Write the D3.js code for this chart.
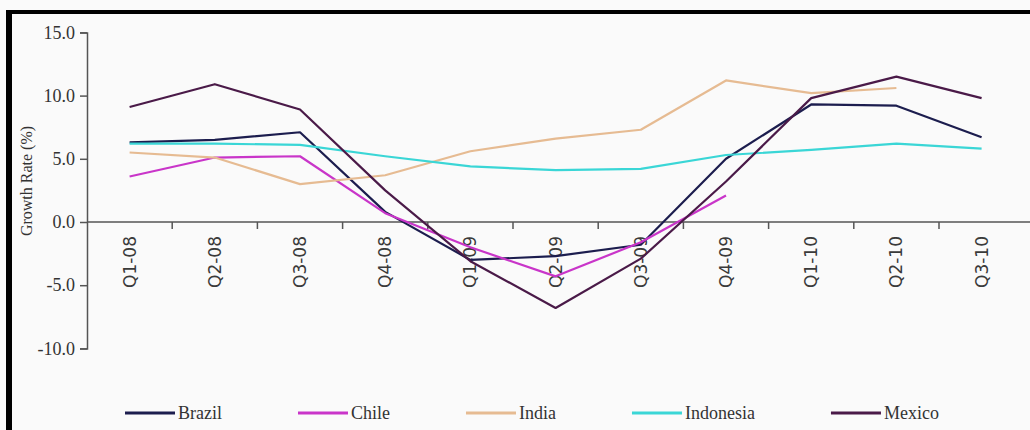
<!DOCTYPE html>
<html>
<head>
<meta charset="utf-8">
<script src="https://cdn.jsdelivr.net/npm/d3@7/dist/d3.min.js"></script>
<style>
  html, body { margin: 0; padding: 0; background: #fafafa; }
  svg { display: block; }
</style>
</head>
<body>
<div id="chart"></div>
<script>
// Quarterly GDP growth rates (%), 2008–2010
const quarters = ["Q1-08", "Q2-08", "Q3-08", "Q4-08", "Q1-09", "Q2-09", "Q3-09", "Q4-09", "Q1-10", "Q2-10", "Q3-10"];
const brazil    = [6.3, 6.5, 7.1, 0.8, -3.0, -2.7, -1.8, 5.0, 9.3, 9.2, 6.7];
const chile     = [3.6, 5.1, 5.2, 0.7, -2.0, -4.3, -1.6, 2.1, null, null, null];
const india     = [5.5, 5.1, 3.0, 3.7, 5.6, 6.6, 7.3, 11.2, 10.2, 10.6, null];
const indonesia = [6.2, 6.2, 6.1, 5.2, 4.4, 4.1, 4.2, 5.3, 5.7, 6.2, 5.8];
const mexico    = [9.1, 10.9, 8.9, 2.5, -3.1, -6.8, -2.9, 3.2, 9.8, 11.5, 9.8];
const yTicks    = [-10, -5, 0, 5, 10, 15];
const seriesNames = ["Brazil", "Chile", "India", "Indonesia", "Mexico"];

const series = [
  { name: "Brazil",    values: brazil,    color: "#1c1d4e" },
  { name: "Chile",     values: chile,     color: "#c935c9" },
  { name: "India",     values: india,     color: "#e6bb92" },
  { name: "Indonesia", values: indonesia, color: "#3ad6d6" },
  { name: "Mexico",    values: mexico,    color: "#4a1a48" }
];

const W = 1030, H = 430;
const svg = d3.select("#chart").append("svg").attr("width", W).attr("height", H);

// frame (top and left edges)
svg.append("rect").attr("x", 6).attr("y", 10).attr("width", W - 6).attr("height", 4).attr("fill", "#000");
svg.append("rect").attr("x", 6).attr("y", 10).attr("width", 6).attr("height", H - 10).attr("fill", "#000");

const x = d3.scaleBand().domain(quarters).range([87, 1024.2]).padding(0);
const y = d3.scaleLinear().domain([-10, 15]).range([348.4, 32.4]);

// y axis
const yAxis = svg.append("g").attr("transform", "translate(87,0)")
  .call(d3.axisLeft(y).tickValues(yTicks).tickSize(7).tickPadding(5).tickFormat(d => d.toFixed(1)));
yAxis.select(".domain").attr("stroke", "#555").attr("stroke-width", 1.5);
yAxis.selectAll(".tick line").attr("stroke", "#555").attr("stroke-width", 1.5);
yAxis.selectAll(".tick text")
  .attr("font-family", "'Liberation Serif', 'Times New Roman', serif")
  .attr("font-size", 18).attr("fill", "#333");

// y axis title
svg.append("text")
  .attr("transform", "translate(26,181) rotate(-90)")
  .attr("text-anchor", "middle").attr("dy", "0.35em")
  .attr("font-family", "'Liberation Serif', 'Times New Roman', serif")
  .attr("font-size", 16).attr("fill", "#333")
  .text("Growth Rate (%)");

// x axis along zero line
const y0 = y(0);
const xAxis = svg.append("g");
xAxis.append("line").attr("x1", 87).attr("x2", W).attr("y1", y0).attr("y2", y0)
  .attr("stroke", "#555").attr("stroke-width", 1.5);
xAxis.selectAll("line.tick").data(quarters.slice(1)).join("line")
  .attr("class", "tick")
  .attr("x1", d => x(d)).attr("x2", d => x(d))
  .attr("y1", y0).attr("y2", y0 + 7)
  .attr("stroke", "#555").attr("stroke-width", 1.5);
xAxis.selectAll("text").data(quarters).join("text")
  .attr("transform", d => `translate(${x(d) + x.bandwidth() / 2},${y0 + 14}) rotate(-90)`)
  .attr("text-anchor", "end").attr("dy", "0.35em")
  .attr("font-family", "'DejaVu Sans', Verdana, sans-serif")
  .attr("font-size", 17).attr("fill", "#3a3a3a")
  .text(d => d);

// series lines
const line = d3.line()
  .defined(d => d.v !== null)
  .x(d => x(d.q) + x.bandwidth() / 2)
  .y(d => y(d.v));

svg.append("g").selectAll("path").data(series).join("path")
  .attr("d", s => line(s.values.map((v, i) => ({ q: quarters[i], v }))))
  .attr("fill", "none")
  .attr("stroke", s => s.color)
  .attr("stroke-width", 2.2)
  .attr("stroke-linejoin", "round");

// legend
const legend = svg.append("g").attr("transform", "translate(125,413)");
let lx = 0;
seriesNames.forEach(name => {
  const s = series.find(d => d.name === name);
  const g = legend.append("g").attr("transform", `translate(${lx},0)`);
  g.append("line").attr("x1", 0).attr("x2", 50).attr("y1", 0).attr("y2", 0)
    .attr("stroke", s.color).attr("stroke-width", 3);
  const t = g.append("text").attr("x", 53).attr("dy", "0.35em")
    .attr("font-family", "'Liberation Serif', 'Times New Roman', serif")
    .attr("font-size", 18).attr("fill", "#333")
    .text(name);
  lx += 53 + t.node().getComputedTextLength() + 76;
});
</script>
</body>
</html>
